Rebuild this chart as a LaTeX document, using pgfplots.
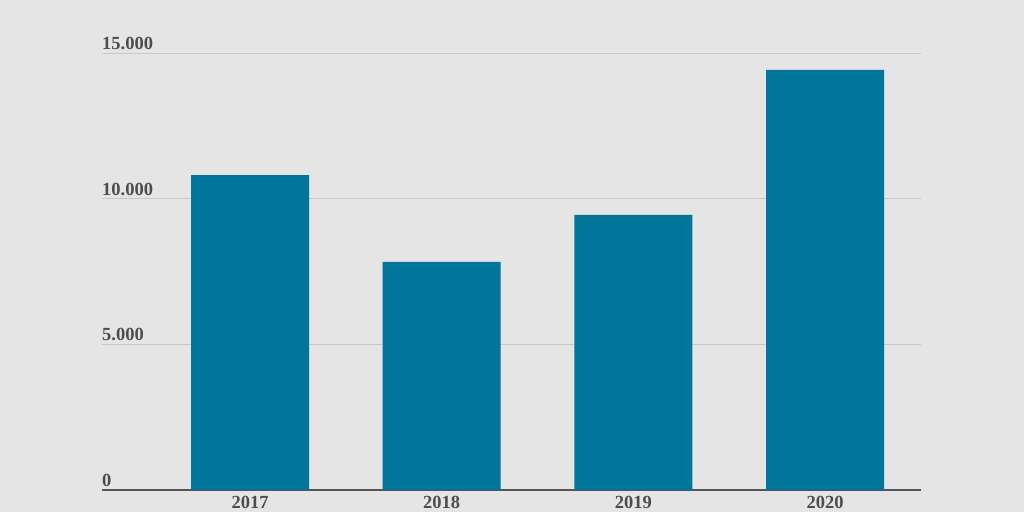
\documentclass[border=0pt]{standalone}
\usepackage{pgfplots}
\pgfplotsset{compat=1.18}
\usepackage{fontspec}
\setmainfont{Liberation Serif}
\definecolor{bg}{HTML}{E5E5E5}
\definecolor{barc}{HTML}{00769A}
\definecolor{txt}{HTML}{4D4D4D}
\definecolor{gridc}{HTML}{C8C8C8}
\definecolor{axc}{HTML}{555555}
\begin{document}
\begin{tikzpicture}[x=1pt,y=1pt]
\useasboundingbox (-102,-22) rectangle (922,490);
\fill[bg] (-102,-22) rectangle (922,490);
\begin{axis}[
  at={(0,0)}, anchor=south west,
  scale only axis, width=819pt, height=437pt,
  xmin=-0.772, xmax=3.5, ymin=0, ymax=15000,
  enlargelimits=false,
  scaled y ticks=false,
  axis x line*=bottom, axis y line*=left,
  x axis line style={color=axc, line width=1.6pt, -},
  y axis line style={draw=none},
  xtick={0,1,2,3}, xticklabels={2017,2018,2019,2020},
  ytick={0,5000,10000,15000}, yticklabels={0,5.000,10.000,15.000},
  major tick length=0pt,
  ymajorgrids, grid style={color=gridc, line width=0.9pt},
  tick label style={font=\fontsize{18.5}{20}\selectfont\bfseries, text=txt, inner sep=0pt},
  yticklabel style={anchor=south west, yshift=3pt},
  xticklabel style={anchor=north, yshift=-6pt},
]
\addplot[ybar, bar width=0.6155, fill=barc, draw=none] coordinates {(0,10810) (1,7830) (2,9440) (3,14420)};
\end{axis}
\end{tikzpicture}
\end{document}
